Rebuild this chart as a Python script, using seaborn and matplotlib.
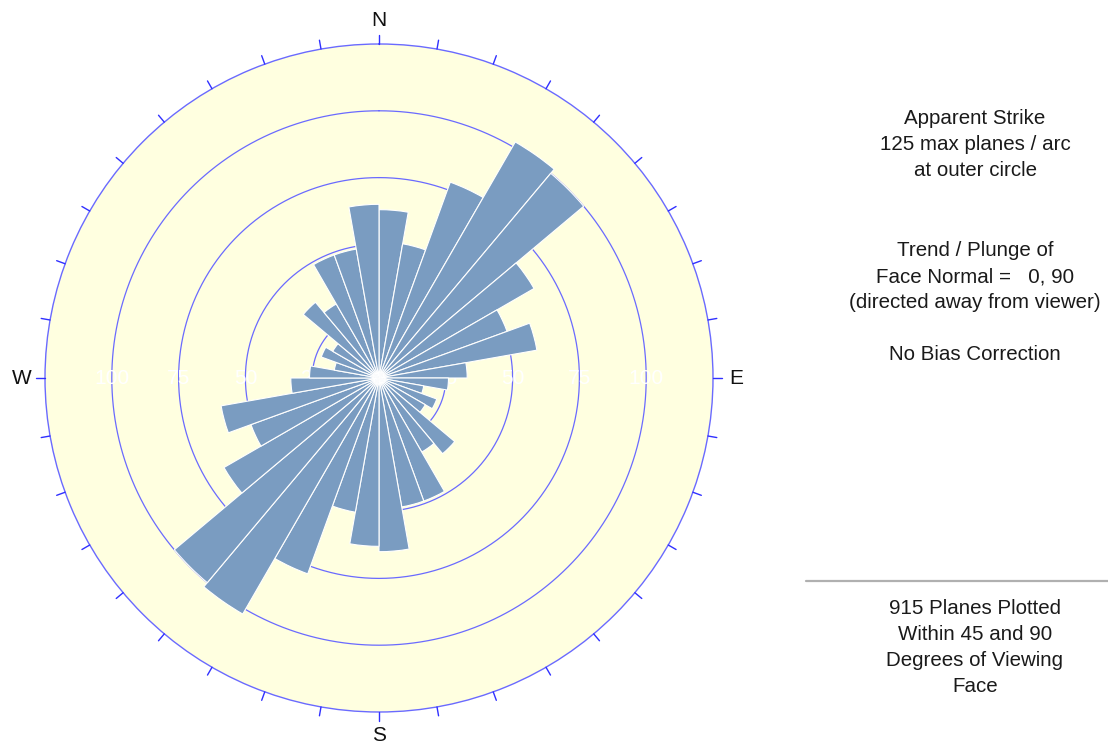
import numpy as np
import pandas as pd
import matplotlib
matplotlib.use("Agg")
import matplotlib.pyplot as plt
from matplotlib.lines import Line2D
import seaborn as sns

# Strike counts per 10-degree arc, 0-180 (clockwise from north); mirrored for 180-360
bin_starts = list(range(0, 180, 10))
strike_counts = [63, 51, 78, 102, 100, 67, 51, 60, 33,
                 26, 17, 23, 20, 37, 32, 49, 49, 65]
ring_values = [25, 50, 75, 100]
max_count = 125
compass = ["N", "E", "S", "W"]

info_top = ["Apparent Strike", "125 max planes / arc", "at outer circle"]
info_mid = ["Trend / Plunge of", "Face Normal =   0, 90", "(directed away from viewer)"]
info_bias = ["No Bias Correction"]
info_bottom = ["915 Planes Plotted", "Within 45 and 90", "Degrees of Viewing", "Face"]

sns.set_style("white")
plt.rcParams["font.family"] = ["Liberation Sans", "DejaVu Sans"]

df = pd.DataFrame({
    "start": bin_starts + [b + 180 for b in bin_starts],
    "count": strike_counts + strike_counts,
})
df["theta"] = np.deg2rad(df["start"] + 5)

bar_color = "#7a9cc1"
ring_color = "#6a6aff"
tick_color = "#3030ff"
cream = "#ffffe0"

W, H = 1108, 744
fig = plt.figure(figsize=(W / 100, H / 100), dpi=100)
cx, cy, rad = 379, 378, 334
ax = fig.add_axes([(cx - rad) / W, (H - cy - rad) / H, 2 * rad / W, 2 * rad / H],
                  projection="polar")
ax.set_theta_zero_location("N")
ax.set_theta_direction(-1)
ax.set_ylim(0, max_count)
ax.set_facecolor(cream)
ax.grid(False)
ax.set_xticks([])
ax.set_yticks([])
ax.spines["polar"].set_color(ring_color)
ax.spines["polar"].set_linewidth(1.0)

full = np.linspace(0, 2 * np.pi, 721)
for rv in ring_values:
    ax.plot(full, np.full_like(full, rv), color=ring_color, lw=0.9, zorder=1)
    for ang in (90, 270):
        ax.text(np.deg2rad(ang), rv, str(rv), color="white", fontsize=15,
                ha="center", va="center", zorder=2)

ax.bar(df["theta"], df["count"], width=np.deg2rad(10), bottom=0,
       color=bar_color, edgecolor="white", linewidth=0.8, zorder=3)

# tick marks every 10 degrees outside the outer circle
for deg in range(0, 360, 10):
    t = np.deg2rad(deg)
    ax.plot([t, t], [max_count, max_count * 1.027], color=tick_color, lw=1.0,
            clip_on=False, zorder=4)

for i, lab in enumerate(compass):
    ax.text(np.deg2rad(90 * i), max_count * 1.069, lab, fontsize=15,
            ha="center", va="center", color="#111111", clip_on=False)

fs = 14.8
xc = 975 / W

def put_lines(lines, y0, step=26):
    for k, s in enumerate(lines):
        fig.text(xc, 1 - (y0 + k * step) / H, s, fontsize=fs, ha="center",
                 va="center", color="#1a1a1a")

put_lines(info_top, 119)
put_lines(info_mid, 251)
put_lines(info_bias, 355)
put_lines(info_bottom, 609)

fig.add_artist(Line2D([806 / W, 1.0], [1 - 580.5 / H] * 2, color="#b0b0b0", lw=1.6))

fig.savefig("out.png", dpi=100, facecolor="white")
